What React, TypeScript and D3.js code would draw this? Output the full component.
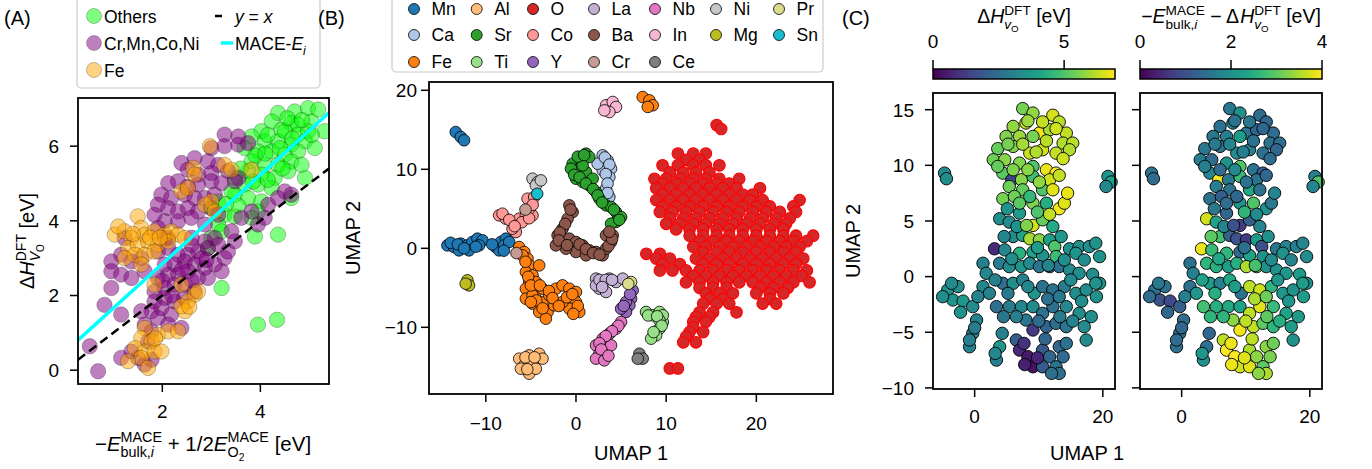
import React from 'react';
import * as d3 from 'd3';

const FONT = '"Liberation Sans", Arial, Helvetica, sans-serif';

// ---------- panel A : DFT vacancy enthalpy vs MACE estimate ----------
const othersPts: [number, number][] = [
  [4.36, 6.89], [4.70, 6.93], [4.97, 7.02], [5.18, 6.98], [4.63, 6.62], [4.77, 6.58], [5.04, 6.66], [4.23, 6.66],
  [4.02, 6.40], [4.43, 6.44], [4.77, 6.31], [4.97, 6.40], [3.82, 6.26], [4.09, 6.13], [4.36, 6.13], [4.63, 6.04],
  [4.91, 6.13], [3.68, 5.95], [3.95, 5.86], [4.23, 5.86], [4.50, 5.77], [4.77, 5.86], [3.82, 5.59], [4.09, 5.50],
  [4.36, 5.50], [4.63, 5.59], [3.75, 5.33], [4.02, 5.24], [4.29, 5.15], [4.57, 5.33], [3.48, 5.15], [3.68, 4.97],
  [3.95, 4.97], [4.23, 4.88], [3.48, 4.70], [3.75, 4.61], [4.02, 4.52], [3.14, 4.52], [3.00, 4.34], [3.27, 4.16],
  [3.14, 3.90], [3.00, 3.54], [2.93, 3.27], [3.21, 3.72], [3.48, 4.12], [3.95, 4.25], [4.91, 5.15], [3.82, 4.08],
  [3.89, 3.58], [4.36, 3.63], [3.21, 2.20], [3.95, 1.22], [4.34, 1.35], [3.41, 4.79], [4.50, 6.40], [5.11, 5.95],
  [5.31, 6.40], [4.84, 5.50], [4.55, 6.75], [4.15, 6.30], [4.40, 5.95], [3.90, 5.75], [4.10, 5.80], [4.65, 6.20],
  [4.85, 6.70], [5.05, 6.30], [3.60, 5.40], [3.85, 5.05], [4.45, 5.40], [4.15, 5.10], [3.55, 4.40], [3.30, 4.45],
  [4.63, 4.61],
];
const tmPts: [number, number][] = [
  [3.27, 6.31], [3.55, 6.26], [3.00, 5.95], [3.27, 6.00], [3.55, 6.04], [3.75, 6.08], [2.39, 5.55], [2.66, 5.68],
  [2.93, 5.59], [3.14, 5.50], [3.34, 5.33], [3.55, 5.15], [2.52, 5.37], [2.73, 5.24], [3.00, 5.28], [2.12, 5.01],
  [2.32, 5.06], [2.52, 4.92], [2.73, 4.97], [3.00, 5.06], [3.21, 5.01], [3.48, 5.06], [1.98, 4.70], [2.18, 4.61],
  [2.46, 4.70], [2.66, 4.61], [2.87, 4.61], [3.07, 4.70], [1.91, 4.43], [2.12, 4.34], [2.32, 4.25], [2.52, 4.34],
  [2.73, 4.25], [3.00, 4.34], [3.14, 4.16], [2.05, 3.99], [2.32, 3.99], [2.59, 4.08], [2.87, 3.90],
  [0.96, 2.91], [1.16, 3.09], [1.37, 2.91], [1.57, 3.00], [0.96, 2.65], [1.16, 2.56], [1.37, 2.47], [1.64, 2.65],
  [0.96, 2.20], [1.91, 3.18], [2.12, 3.27], [2.32, 3.09], [2.52, 3.09], [2.73, 3.18], [2.93, 3.27], [3.14, 3.36],
  [3.27, 3.00], [3.21, 2.65], [2.05, 2.83], [2.25, 2.83], [2.46, 2.91], [2.66, 2.83], [2.87, 2.74], [3.07, 2.83],
  [1.91, 2.47], [2.12, 2.56], [2.32, 2.56], [2.52, 2.65], [2.73, 2.47], [2.93, 2.47], [1.84, 2.11], [2.05, 2.20],
  [2.25, 2.29], [2.46, 2.29], [2.66, 2.11], [1.84, 1.84], [2.05, 1.93], [2.25, 1.84], [1.78, 1.58], [1.98, 1.66],
  [2.18, 1.49], [1.57, 1.58], [1.64, 1.22], [1.91, 1.40], [2.12, 1.22], [2.39, 1.13], [1.50, 0.33], [1.78, 0.28],
  [1.64, 0.15], [0.82, 1.75], [1.16, 1.49], [0.52, 0.64], [0.69, -0.03], [1.16, 0.33], [1.37, 0.50], [3.95, 3.90],
  [3.82, 4.25], [4.16, 4.43], [4.36, 4.61], [4.50, 4.79], [4.63, 4.70], [4.09, 4.08], [3.61, 4.08], [3.41, 3.72],
  [3.48, 3.45], [3.34, 3.18], [3.07, 3.54], [2.87, 3.45], [2.59, 3.36], [2.12, 3.54], [1.91, 3.81], [1.84, 4.16],
  [2.05, 3.54], [1.23, 3.54], [1.78, 1.04], [1.71, 0.77],
  [2.40, 2.70], [2.60, 2.40], [2.80, 3.00], [2.20, 2.00], [2.45, 1.95], [2.00, 2.40], [2.90, 2.95], [2.60, 3.55],
];
const fePts: [number, number][] = [
  [2.97, 6.00], [2.63, 5.42], [2.66, 5.24], [3.27, 5.50], [3.41, 5.37], [3.82, 5.37], [2.39, 4.79], [2.52, 4.88],
  [2.87, 4.43], [3.00, 4.52], [3.07, 4.25],
  [1.03, 3.63], [1.23, 3.72], [1.50, 4.12], [1.57, 3.81], [1.37, 3.54], [1.64, 3.63], [1.84, 3.72], [2.05, 3.63],
  [2.18, 3.72], [2.32, 3.63], [2.46, 3.54], [1.30, 3.27], [1.50, 3.36], [1.71, 3.45], [1.91, 3.36], [2.12, 3.45],
  [1.44, 3.09], [1.64, 3.09], [1.84, 3.18], [1.23, 3.00], [1.57, 2.83], [1.10, 3.85],
  [2.52, 1.84], [2.46, 1.58], [2.39, 1.71], [2.66, 2.02], [1.91, 0.95], [2.12, 1.04], [2.32, 1.04], [1.64, 1.13],
  [1.57, 0.86], [1.78, 0.77], [1.44, 0.59], [1.64, 0.50], [1.84, 0.50], [1.57, 0.33], [1.71, 0.06], [1.98, 0.50],
  [2.73, 2.11], [2.39, 2.29], [1.84, 2.29], [1.30, 0.24],
  [1.75, 3.55], [1.40, 3.65], [1.95, 3.55], [2.55, 1.70], [1.85, 0.85],
];
const maceSlope = 1.19;
const maceIntercept = 0.47;
const aXTicks = [2, 4];
const aYTicks = [0, 2, 4, 6];

// ---------- panel B : UMAP coloured by element ----------
const mnPts: [number, number][] = [
  [-13.34, 14.72], [-12.78, 14.09], [-12.41, 13.67], [-14.26, 0.37], [-13.52, 0.16], [-12.78, 0.59], [-12.04, 0.37],
  [-11.49, 0.8], [-10.93, 1.22], [-10.37, 1.01], [-11.86, -0.26], [-12.97, -0.26], [-10.74, 0.37], [-8.89, 0.16],
  [-8.34, 0.8], [-7.78, 1.22], [-8.52, -0.26], [-7.97, 0.37], [-7.41, 0.8],
  [-13.9, 0.7], [-13.1, 0.5], [-12.4, 0.0], [-11.1, 0.2], [-9.3, 0.5], [-8.0, -0.3],
];
const caPts: [number, number][] = [
  [2.96, 11.77], [3.51, 11.13], [3.89, 10.08], [2.96, 9.87], [3.7, 9.02], [3.33, 7.55], [3.7, 6.49], [2.4, 10.71],
  [3.2, 11.5], [3.7, 10.6], [3.3, 9.4], [3.5, 8.2], [3.5, 7.0],
];
const fePtsB: [number, number][] = [
  [7.4, 19.15], [8.14, 18.73], [8.51, 18.1], [7.96, 17.89], [-6.3, 0.16], [-5.74, -0.47], [-5.37, -1.31],
  [-5.19, -2.16], [-5.56, -3.0], [-4.82, -3.42], [-5.19, -4.27], [-5.56, -5.11], [-4.45, -4.27], [-4.45, -5.53],
  [-5.56, -6.38], [-4.82, -7.01], [-3.71, -6.8], [-3.15, -8.06], [-4.08, -8.06], [-2.97, -5.95], [-2.23, -5.11],
  [-1.49, -4.69], [-0.74, -5.11], [0, -5.53], [0, -6.8], [0.37, -8.06], [-0.74, -7.64], [-1.49, -6.8],
  [-2.41, -7.22], [-3.34, -8.91], [-4.82, -5.95], [-3.71, -5.11], [-5.93, -0.89], [-4.08, -2.16],
  [-5.6, -1.7], [-5.3, -3.6], [-5.0, -4.7], [-4.0, -4.7], [-3.0, -5.4], [-2.6, -6.3], [-1.9, -7.3], [-1.0, -6.2],
  [-0.4, -5.8], [0.2, -7.3], [-0.3, -8.3], [-4.4, -6.6], [-3.7, -7.6], [-5.0, -6.8],
];
const alPts: [number, number][] = [
  [-6.3, -13.97], [-5.19, -13.55], [-4.08, -13.34], [-3.71, -13.97], [-5.74, -14.81], [-4.82, -14.6],
  [-5.19, -15.87], [-4.45, -15.24], [-6.11, -15.24], [-5.6, -13.8], [-4.6, -13.8], [-5.4, -15.3],
];
const srPts: [number, number][] = [
  [-0.37, 10.71], [0, 9.87], [0.55, 11.13], [1.11, 11.98], [1.48, 11.56], [0, 8.81], [0.74, 8.39], [1.48, 7.97],
  [2.22, 7.13], [2.59, 6.28], [3.33, 5.44], [3.89, 5.23], [4.44, 4.59], [5.0, 3.96], [4.44, 3.33], [3.89, 3.12],
  [1.11, 9.66], [1.85, 8.81], [-0.56, 10.08], [0.74, 10.5],
  [0.2, 11.6], [0.9, 11.8], [-0.2, 9.3], [0.4, 9.0], [1.1, 8.2], [1.9, 7.5], [2.4, 6.7], [2.9, 5.8], [4.2, 4.9], [4.8, 3.6],
];
const tiPts: [number, number][] = [
  [7.77, -8.06], [8.51, -8.48], [9.26, -8.06], [9.63, -9.33], [9.26, -10.17], [8.89, -11.02], [8.33, -11.44],
  [9.63, -8.48], [9.26, -9.12], [8.0, -8.5], [9.0, -8.6], [9.5, -9.8], [8.6, -10.6],
];
// O sites: [UMAP 2, [UMAP 1 values along that row]]
const oRows: [number, number[]][] = [
  [15.6, [15.6]], [15.1, [16.1]],
  [12.0, [11.3, 13.0, 14.4]],
  [11.2, [12.2, 13.7]],
  [10.5, [9.6, 11.3, 13.0, 14.4, 15.9]],
  [9.6, [10.4, 11.9, 13.3, 14.8]],
  [8.8, [8.7, 10.0, 11.5, 13.0, 14.4, 15.9, 18.1]],
  [8.2, [9.6, 11.1, 12.6, 14.1, 15.6, 17.0]],
  [7.6, [8.9, 10.4, 11.9, 13.3, 14.8, 16.3, 17.8, 20.4]],
  [6.8, [9.6, 11.1, 12.6, 14.1, 15.6, 17.0, 18.5, 19.6]],
  [6.1, [8.9, 10.4, 11.9, 13.3, 14.8, 16.3, 17.8, 19.3, 20.7, 24.8]],
  [5.3, [9.6, 11.1, 12.6, 14.1, 15.6, 17.0, 18.5, 20.0, 21.5, 24.1]],
  [4.6, [9.3, 10.7, 12.2, 13.7, 15.2, 16.7, 18.1, 19.6, 21.1, 22.6, 24.4]],
  [3.8, [10.4, 11.9, 13.3, 14.8, 16.3, 17.8, 19.3, 20.7, 22.2, 23.7]],
  [3.1, [10.0, 11.5, 13.0, 14.4, 15.9, 17.4, 18.9, 20.4, 21.9, 23.3]],
  [2.4, [11.1, 12.6, 14.1, 15.6, 17.0, 18.5, 20.0, 21.5, 23.0]],
  [1.6, [12.6, 14.1, 15.6, 17.0, 18.5, 20.0, 21.5, 23.0, 24.4, 26.3]],
  [0.9, [13.7, 15.2, 16.7, 18.1, 19.6, 21.1, 22.6, 24.1, 25.6]],
  [0.2, [13.0, 14.4, 15.9, 17.4, 18.9, 20.4, 21.9, 23.3, 24.8]],
  [-0.5, [14.1, 15.6, 17.0, 18.5, 20.0, 21.5, 23.0, 24.4]],
  [-0.7, [7.8, 9.3]],
  [-1.3, [8.9, 10.4, 13.3, 14.8, 16.3, 17.8, 19.3, 20.7, 22.2, 23.7, 25.2]],
  [-2.0, [9.6, 11.5, 14.1, 15.6, 17.0, 18.5, 20.0, 21.5, 23.0, 24.4]],
  [-2.8, [9.3, 10.7, 12.2, 13.7, 15.2, 16.7, 18.1, 19.6, 21.1, 22.6, 24.1, 25.6]],
  [-3.5, [13.0, 14.4, 15.9, 17.4, 18.9, 20.4, 21.9, 23.3, 25.0]],
  [-4.3, [12.2, 13.7, 15.2, 16.7, 18.1, 19.6, 21.1, 22.6, 24.1, 25.9]],
  [-5.0, [13.7, 15.2, 16.7, 20.4, 21.9, 23.5]],
  [-5.7, [14.4, 15.9, 17.4, 20.0, 21.5, 23.0]],
  [-6.4, [14.8, 16.3, 21.5]],
  [-7.0, [14.1, 15.6, 17.0, 20.7, 22.2]],
  [-8.1, [13.7, 15.2, 17.8]],
  [-8.7, [13.3, 14.8]],
  [-9.3, [13.0, 14.4]],
  [-10.0, [13.0]],
  [-10.6, [12.6, 14.1]],
  [-11.2, [12.2]],
  [-11.9, [11.9, 13.3]],
  [-15.2, [10.4, 11.3]],
];
const coPts: [number, number][] = [
  [-8.52, 4.17], [-7.78, 3.75], [-7.04, 3.33], [-6.3, 3.75], [-5.56, 4.17], [-4.82, 4.17], [-5.19, 5.02],
  [-5.37, 6.28], [-4.63, 6.49], [-6.67, 2.06], [-7.04, 2.48], [-8.15, 4.38],
  [-7.4, 3.6], [-6.0, 3.3], [-5.2, 3.8], [-4.8, 5.5], [-6.8, 2.8],
];
const yPts: [number, number][] = [[6.29, -5.32], [6.11, -6.38], [5.92, -7.22], [5.55, -8.06], [5.0, -7.64], [5.55, -6.8], [6.0, -5.8], [5.3, -7.3]];
const laPts: [number, number][] = [
  [2.22, -3.84], [2.96, -4.27], [3.7, -3.84], [4.44, -4.27], [5.18, -3.84], [2.59, -5.11], [2.22, -4.69], [3.33, -5.53],
  [2.6, -4.0], [3.3, -4.0], [4.0, -4.0], [2.9, -4.9],
];
const baPts: [number, number][] = [
  [-0.74, 5.44], [-0.37, 4.59], [-0.93, 3.75], [-1.49, 2.48], [-2.04, 1.64], [-1.49, 0.8], [-0.74, 1.22], [0, 0.8],
  [0.74, 0.37], [1.48, -0.26], [2.22, -0.47], [2.96, -0.89], [3.33, -0.05], [3.89, 0.8], [4.07, 1.64], [3.33, 1.64],
  [0, -0.47], [-1.11, -0.05], [-2.23, 0.37], [1.11, -0.89],
  [-0.6, 4.9], [-1.2, 3.1], [-1.8, 2.0], [-1.9, 1.0], [-1.0, 0.4], [0.4, 0.5], [1.1, -0.1], [1.9, -0.6], [2.6, -0.8],
  [3.6, 0.3], [4.0, 1.2], [3.7, 2.1],
];
const crPts: [number, number][] = [[-5.6, 4.9], [-6.6, -0.6]];
const nbPts: [number, number][] = [
  [5.0, -9.33], [4.44, -10.17], [3.7, -10.81], [2.96, -11.44], [2.22, -12.28], [2.59, -13.34], [3.33, -13.13],
  [3.89, -12.28], [2.22, -13.97], [3.14, -14.18], [4.7, -9.8], [4.0, -10.5], [3.3, -11.1], [2.6, -12.0], [2.8, -12.8], [3.6, -13.6],
];
const inPts: [number, number][] = [[3.33, 18.1], [4.07, 18.52], [4.44, 17.89], [3.7, 17.25], [3.14, 17.46]];
const cePts: [number, number][] = [[7.03, -13.34], [7.4, -13.97], [6.85, -13.97]];
const niPts: [number, number][] = [[-4.82, 8.81], [-4.26, 8.39], [-4.45, 7.97], [-3.89, 8.6]];
const mgPts: [number, number][] = [[-12.04, -4.05], [-11.86, -4.69], [-12.23, -4.48]];
const prPts: [number, number][] = [[6.11, -4.27], [5.8, -4.5]];
const snPts: [number, number][] = [[-4.3, 6.9]];
const elements = ['Mn', 'Ca', 'Fe', 'Al', 'Sr', 'Ti', 'O', 'Co', 'Y', 'La', 'Ba', 'Cr', 'Nb', 'In', 'Ce', 'Ni', 'Mg', 'Pr', 'Sn'];
const legendColumnSizes = [3, 3, 3, 3, 3, 2, 2];
const bXTicks = [-10, 0, 10, 20];
const bYTicks = [-10, 0, 10, 20];

// ---------- panel C : UMAP coloured by energies ----------
const cPts: [number, number][] = [
  [-4.7, 9.3], [-4.4, 8.8], [20.8, 9.0], [21.3, 8.5], [20.5, 8.1], [7.5, 15.1], [9.1, 14.7], [12.2, 14.5],
  [13.2, 13.9], [6.0, 13.5], [8.0, 13.8], [10.1, 12.9], [11.7, 13.2], [14.3, 12.9], [4.9, 12.6], [7.0, 12.6],
  [9.1, 12.6], [13.8, 12.0], [15.3, 12.0], [3.6, 11.5], [6.0, 11.7], [8.6, 11.1], [10.6, 11.4], [12.7, 11.1],
  [14.8, 11.4], [2.9, 10.5], [4.7, 10.5], [7.0, 10.2], [9.1, 9.9], [11.2, 9.6], [12.7, 9.3], [4.4, 9.3],
  [5.8, 8.7], [7.3, 8.7], [9.1, 9.0], [11.7, 8.7], [13.2, 9.1], [5.4, 8.1], [7.5, 7.8], [10.6, 7.8],
  [4.4, 7.0], [6.2, 7.2], [9.1, 6.6], [11.2, 6.6], [13.2, 6.1], [14.0, 6.6], [8.6, 7.2], [3.9, 5.2],
  [5.4, 4.9], [7.0, 5.7], [9.1, 4.6], [10.6, 5.1], [12.2, 4.5], [6.0, 3.6], [7.5, 3.7], [8.6, 3.4],
  [10.1, 3.3], [11.7, 3.3], [3.1, 2.5], [4.7, 2.4], [7.0, 2.1], [9.1, 2.2], [10.6, 1.9], [12.5, 2.7],
  [12.7, 1.8], [14.8, 2.5], [16.3, 2.7], [17.9, 2.7], [18.9, 3.0], [15.8, 2.1], [1.3, 1.2], [1.8, 0.3],
  [3.9, 1.2], [5.4, 0.9], [7.3, 0.9], [8.6, 1.2], [10.1, 0.9], [11.7, 0.9], [13.2, 0.9], [14.8, 0.6],
  [16.3, 0.3], [18.4, 0.2], [19.5, -0.6], [-4.2, -1.2], [-2.6, -0.9], [-3.4, -2.1], [-1.8, -2.2], [-0.3, -2.7],
  [1.3, -0.9], [2.3, -1.5], [4.4, -0.6], [6.0, -0.6], [7.5, -0.3], [9.3, -1.5], [10.6, -0.9], [12.2, -1.2],
  [14.0, -0.9], [15.8, -1.5], [17.4, -1.2], [18.9, -0.6], [3.4, -2.7], [5.4, -2.7], [7.3, -2.7], [9.1, -2.7],
  [10.6, -3.3], [12.2, -2.7], [14.3, -2.7], [16.3, -3.3], [0.3, -3.9], [-0.3, -5.1], [-0.8, -6.3], [8.0, -3.9],
  [9.1, -4.8], [11.2, -4.5], [12.7, -4.2], [14.3, -4.5], [17.1, -4.5], [17.4, -5.7], [3.9, -6.3], [3.4, -7.5],
  [6.5, -5.7], [7.0, -6.6], [8.3, -7.2], [9.1, -8.1], [10.6, -6.6], [11.7, -7.2], [12.7, -8.1], [13.2, -6.3],
  [14.3, -6.0], [13.2, -8.7], [10.6, -8.1],
  [8.3, 14.0], [10.6, 13.9], [12.7, 13.3], [5.2, 11.9], [7.5, 11.9], [11.2, 12.2], [9.6, 11.2], [13.8, 10.6],
  [3.6, 9.9], [6.0, 9.6], [8.3, 9.6], [10.1, 8.5], [12.2, 7.8], [14.5, 7.5], [5.1, 6.1], [7.0, 6.6],
  [9.8, 5.8], [11.7, 5.6], [4.6, 3.6], [6.6, 4.5], [8.1, 4.6], [13.5, 3.6], [9.8, 2.6], [5.8, 1.6],
  [11.5, 1.0], [14.0, 1.5], [17.1, 1.5], [19.5, 1.8], [-5.0, -1.8], [-3.6, -0.6], [-2.2, -3.2], [0.5, -1.8],
  [3.2, -0.3], [5.2, -1.5], [8.3, -0.9], [11.4, -2.0], [13.2, -1.8], [15.0, -0.3], [16.7, -2.2], [19.0, -1.8],
  [18.2, -3.6], [4.5, -3.6], [6.5, -3.6], [10.0, -4.0], [13.3, -3.6], [15.3, -4.0], [0.0, -4.6], [-0.8, -5.7],
  [3.2, -6.9], [4.3, -5.1], [7.7, -6.0], [9.8, -7.3], [11.0, -5.6], [12.0, -8.7], [13.8, -7.2], [7.8, -7.9],
];
const cDH = [
  3.3, 3.4, 3.6, 4.0, 3.2, 5.5, 5.8, 6.5, 6.2, 5.8, 6.3, 6.8, 6.0, 6.3, 5.6, 5.9,
  5.5, 6.1, 6.2, 5.3, 5.6, 6.4, 6.5, 6.3, 6.1, 5.4, 5.7, 5.6, 5.0, 6.7, 6.9, 5.2,
  1.5, 5.7, 4.8, 6.4, 6.3, 5.4, 5.3, 5.0, 5.5, 5.4, 5.6, 4.3, 6.8, 6.6, 4.6, 3.4,
  3.3, 3.8, 6.5, 5.3, 4.2, 3.3, 4.0, 6.0, 5.7, 3.9, 0.8, 3.2, 4.4, 4.0, 3.5, 5.0,
  4.7, 3.5, 3.5, 3.4, 3.5, 3.6, 3.0, 3.2, 2.9, 3.3, 3.6, 3.3, 2.7, 2.6, 2.6, 3.3,
  3.4, 3.4, 3.5, 3.5, 3.4, 3.6, 3.7, 3.3, 3.2, 3.0, 2.5, 3.4, 3.0, 3.6, 2.6, 2.6,
  2.9, 3.4, 3.4, 3.5, 2.5, 2.9, 3.2, 3.3, 2.6, 2.5, 3.2, 3.4, 3.0, 2.9, 3.0, 2.7,
  1.2, 2.2, 2.5, 2.7, 3.3, 3.3, 3.7, 3.0, 2.0, 0.8, 0.5, 0.3, 2.0, 2.3, 2.6, 2.3,
  2.6, 2.5, 2.0,
  5.9, 6.3, 6.4, 5.5, 6.0, 6.2, 6.1, 6.4, 5.3, 5.6, 5.7, 5.8, 6.6, 6.7, 3.6, 5.2,
  5.0, 6.3, 3.2, 3.5, 5.6, 3.7, 3.8, 3.4, 3.1, 3.4, 3.4, 3.5, 3.4, 3.3, 3.5, 3.1,
  3.0, 2.8, 3.2, 2.6, 2.8, 3.3, 3.4, 3.5, 3.4, 2.7, 3.0, 2.4, 2.9, 3.1, 2.9, 3.0,
  3.2, 3.0, 1.0, 0.7, 2.3, 2.5, 2.4, 0.6,
];
const cDiff = [
  1.5, 1.4, 1.7, 2.9, 1.8, 1.6, 2.0, 1.4, 1.3, 1.5, 1.8, 1.5, 1.3, 1.4, 1.6, 1.7,
  2.2, 1.5, 1.4, 1.6, 1.5, 1.9, 1.8, 1.5, 1.3, 1.7, 1.4, 2.0, 2.9, 1.5, 1.2, 1.8,
  4.0, 1.6, 2.7, 1.5, 1.3, 1.7, 1.5, 2.4, 1.5, 1.2, 2.0, 2.9, 2.0, 1.6, 1.3, 3.7,
  2.3, 1.3, 0.7, 1.2, 1.8, 2.8, 1.2, 1.0, 0.7, 2.2, 3.9, 2.7, 2.6, 1.4, 2.3, 1.0,
  2.0, 1.6, 1.8, 1.7, 1.8, 2.0, 1.5, 1.7, 2.6, 2.5, 2.2, 2.5, 3.5, 3.3, 2.0, 2.0,
  2.1, 2.2, 2.0, 1.5, 1.5, 1.0, 0.9, 1.2, 1.5, 2.1, 2.2, 1.7, 2.4, 1.5, 3.6, 3.7,
  2.6, 2.1, 2.0, 2.2, 2.8, 2.5, 2.4, 2.3, 3.6, 3.8, 2.7, 2.3, 1.4, 1.4, 1.5, 3.3,
  3.9, 3.6, 3.0, 2.6, 2.2, 2.0, 1.5, 2.0, 3.6, 4.0, 4.0, 3.7, 3.5, 3.3, 3.0, 3.3,
  3.1, 3.5, 3.8,
  1.5, 1.6, 1.3, 1.6, 1.8, 1.5, 1.7, 1.4, 1.7, 1.4, 1.9, 1.5, 1.5, 1.8, 1.6, 1.4,
  2.6, 1.9, 3.0, 1.8, 1.0, 2.0, 1.5, 2.4, 2.8, 1.9, 1.8, 1.9, 1.4, 1.6, 1.3, 1.7,
  2.3, 2.5, 2.2, 3.5, 3.1, 2.1, 2.1, 2.2, 2.2, 2.6, 2.6, 3.6, 3.0, 2.5, 1.3, 1.4,
  2.1, 1.3, 3.9, 3.8, 3.6, 3.3, 3.2, 3.9,
];
const cXTicks = [0, 20];
const cYTicks = [-10, -5, 0, 5, 10, 15];
const dhMax = 6.94;
const diffMax = 4;
const dhTicks = [0, 5];
const diffTicks = [0, 2, 4];

// matplotlib tab20, in the same order as `elements`
const TAB20 = ['#1f77b4', '#aec7e8', '#ff7f0e', '#ffbb78', '#2ca02c', '#98df8a', '#d62728', '#ff9896', '#9467bd', '#c5b0d5',
  '#8c564b', '#c49c94', '#e377c2', '#f7b6d2', '#7f7f7f', '#c7c7c7', '#bcbd22', '#dbdb8d', '#17becf'];

// ---------- small mathtext helper ----------
type Run = { t: string; it?: boolean; lvl?: 'sup' | 'sub' | 'subsub'; back?: boolean; mark?: boolean; max?: boolean };
const LV = { base: { s: 1, dy: 0 }, sup: { s: 0.7, dy: -0.42 }, sub: { s: 0.7, dy: 0.3 }, subsub: { s: 0.5, dy: 0.48 } };
let ctx: CanvasRenderingContext2D | null = null;
function tw(t: string, size: number, it?: boolean) {
  if (!ctx) ctx = document.createElement('canvas').getContext('2d');
  if (!ctx) return t.length * size * 0.55;
  ctx.font = `${it ? 'italic ' : ''}${size}px ${FONT}`;
  return ctx.measureText(t).width;
}
function layout(runs: Run[], fs: number) {
  let last = 0, max = 0, mark = 0;
  const items: { t: string; x: number; dy: number; size: number; it?: boolean }[] = [];
  for (const r of runs) {
    const L = LV[r.lvl || 'base'];
    const size = fs * L.s;
    const x = r.back ? mark : r.max ? max : last;
    if (r.mark) mark = x;
    const txt = r.t.trimStart();
    const lead = tw(r.t.slice(0, r.t.length - txt.length), size, r.it);
    items.push({ t: txt, x: x + lead, dy: L.dy * fs, size, it: r.it });
    last = x + tw(r.t, size, r.it);
    max = Math.max(max, last);
  }
  return { items, width: max };
}
function MathText({ runs, x, y, fs, anchor = 'middle', rotate = 0 }: { runs: Run[]; x: number; y: number; fs: number; anchor?: string; rotate?: number }) {
  const { items, width } = layout(runs, fs);
  const off = anchor === 'middle' ? -width / 2 : anchor === 'end' ? -width : 0;
  return (
    <g transform={`translate(${x},${y}) rotate(${rotate})`}>
      {items.map((d, i) => (
        <text key={i} x={d.x + off} y={d.dy} fontSize={d.size} fontStyle={d.it ? 'italic' : 'normal'} fill="#000">{d.t}</text>
      ))}
    </g>
  );
}

// ---------- axes frame ----------
type Box = { x0: number; x1: number; y0: number; y1: number };
function Frame({ b, xs, ys, xTicks, yTicks, yLabels = true, yGap = 19, xGap = 34, fs = 19 }: any) {
  return (
    <g>
      {xTicks.map((t: number) => (
        <g key={'x' + t}>
          <line x1={xs(t)} x2={xs(t)} y1={b.y1} y2={b.y1 + 8} stroke="#000" strokeWidth={1.5} />
          <text x={xs(t)} y={b.y1 + xGap} fontSize={fs} textAnchor="middle">{String(t).replace('-', '−')}</text>
        </g>
      ))}
      {yTicks.map((t: number) => (
        <g key={'y' + t}>
          <line x1={b.x0 - 8} x2={b.x0} y1={ys(t)} y2={ys(t)} stroke="#000" strokeWidth={1.5} />
          {yLabels && <text x={b.x0 - yGap} y={ys(t)} dy="0.36em" fontSize={fs} textAnchor="end">{String(t).replace('-', '−')}</text>}
        </g>
      ))}
      <rect x={b.x0} y={b.y0} width={b.x1 - b.x0} height={b.y1 - b.y0} fill="none" stroke="#000" strokeWidth={1.8} />
    </g>
  );
}

function Colorbar({ x0, x1, y0, y1, scale, ticks, id }: any) {
  const stops = d3.range(0, 1.0001, 0.05);
  const ax = d3.scaleLinear().domain(scale.domain()).range([x0, x1]);
  return (
    <g>
      <defs>
        <linearGradient id={id} x1="0" x2="1" y1="0" y2="0">
          {stops.map((s) => <stop key={s} offset={s} stopColor={d3.interpolateViridis(s)} />)}
        </linearGradient>
      </defs>
      <rect x={x0} y={y0} width={x1 - x0} height={y1 - y0} fill={`url(#${id})`} stroke="#000" strokeWidth={1.5} />
      {ticks.map((t: number) => (
        <g key={t}>
          <line x1={ax(t)} x2={ax(t)} y1={y0 - 9} y2={y0} stroke="#000" strokeWidth={1.5} />
          <text x={ax(t)} y={y0 - 21} fontSize={19} textAnchor="middle">{t}</text>
        </g>
      ))}
    </g>
  );
}

export default function App() {
  // panel A
  const bA: Box = { x0: 78, x1: 329, y0: 98, y1: 384 };
  const xA = d3.scaleLinear().domain([0.28, 5.40]).range([bA.x0, bA.x1]);
  const yA = d3.scaleLinear().domain([-0.37, 7.29]).range([bA.y1, bA.y0]);
  const groupsA = [
    { pts: othersPts, color: '#00ff00' },
    { pts: tmPts, color: '#800080' },
    { pts: fePts, color: '#ffa500' },
  ];
  const [lx0, lx1] = xA.domain();

  // panel B
  const bB: Box = { x0: 429, x1: 833, y0: 82, y1: 394 };
  const xB = d3.scaleLinear().domain([-16.3, 28.5]).range([bB.x0, bB.x1]);
  const yB = d3.scaleLinear().domain([-18.44, 21.05]).range([bB.y1, bB.y0]);
  const oPts: [number, number][] = oRows.flatMap(([y, xs]) => xs.map((x) => [x, y] as [number, number]));
  const ptsByEl: Record<string, [number, number][]> = {
    Mn: mnPts, Ca: caPts, Fe: fePtsB, Al: alPts, Sr: srPts, Ti: tiPts, O: oPts, Co: coPts, Y: yPts, La: laPts,
    Ba: baPts, Cr: crPts, Nb: nbPts, In: inPts, Ce: cePts, Ni: niPts, Mg: mgPts, Pr: prPts, Sn: snPts,
  };
  const legCols = [414, 476.7, 533, 594, 655, 716, 779];
  const legRows = [9, 35, 62];
  const legSlots: [number, number][] = legendColumnSizes.flatMap((n, c) => d3.range(n).map((r) => [c, r] as [number, number]));

  // panel C
  const bC1: Box = { x0: 933, x1: 1115, y0: 93, y1: 389 };
  const bC2: Box = { x0: 1140, x1: 1322, y0: 93, y1: 389 };
  const xC1 = d3.scaleLinear().domain([-6.5, 21.9]).range([bC1.x0, bC1.x1]);
  const xC2 = d3.scaleLinear().domain([-6.5, 21.9]).range([bC2.x0, bC2.x1]);
  const yC = d3.scaleLinear().domain([-10.1, 16.5]).range([bC1.y1, bC1.y0]);
  const cDHScale = d3.scaleSequential(d3.interpolateViridis).domain([0, dhMax]);
  const cDiffScale = d3.scaleSequential(d3.interpolateViridis).domain([0, diffMax]);

  const dhTitle: Run[] = [{ t: 'Δ' }, { t: 'H', it: true }, { t: 'DFT', lvl: 'sup', mark: true }, { t: 'v', it: true, lvl: 'sub', back: true }, { t: 'O', lvl: 'subsub' }, { t: ' [eV]', max: true }];
  const diffTitle: Run[] = [{ t: '−' }, { t: 'E', it: true }, { t: 'MACE', lvl: 'sup', mark: true }, { t: 'bulk,', lvl: 'sub', back: true }, { t: 'i', it: true, lvl: 'sub' },
    { t: ' − Δ', max: true }, { t: 'H', it: true }, { t: 'DFT', lvl: 'sup', mark: true }, { t: 'v', it: true, lvl: 'sub', back: true }, { t: 'O', lvl: 'subsub' }, { t: ' [eV]', max: true }];

  return (
    <svg width={1372} height={469} style={{ position: 'absolute', left: 0, top: 0, background: '#fff' }} fontFamily={FONT}>
      <defs>
        <clipPath id="clipA"><rect x={bA.x0} y={bA.y0} width={bA.x1 - bA.x0} height={bA.y1 - bA.y0} /></clipPath>
        <clipPath id="clipB"><rect x={bB.x0} y={bB.y0} width={bB.x1 - bB.x0} height={bB.y1 - bB.y0} /></clipPath>
      </defs>

      {/* ---------------- (A) ---------------- */}
      <text x={4} y={25} fontSize={20}>(A)</text>
      <g clipPath="url(#clipA)">
        {groupsA.map((g, gi) => g.pts.map((p, i) => (
          <circle key={gi + '-' + i} cx={xA(p[0])} cy={yA(p[1])} r={7.7} fill={g.color} fillOpacity={0.5} stroke="#000" strokeOpacity={0.35} strokeWidth={0.7} />
        )))}
        <line x1={xA(lx0)} y1={yA(lx0)} x2={xA(lx1)} y2={yA(lx1)} stroke="#000" strokeWidth={2.5} strokeDasharray="9,5" />
        <line x1={xA(lx0)} y1={yA(maceSlope * lx0 + maceIntercept)} x2={xA(lx1)} y2={yA(maceSlope * lx1 + maceIntercept)} stroke="#00ffff" strokeWidth={3.5} />
      </g>
      <Frame b={bA} xs={xA} ys={yA} xTicks={aXTicks} yTicks={aYTicks} yGap={19} xGap={34} />
      <MathText x={34} y={241} fs={20} rotate={-90} runs={[{ t: 'Δ' }, { t: 'H', it: true }, { t: 'DFT', lvl: 'sup', mark: true }, { t: 'V', it: true, lvl: 'sub', back: true }, { t: 'O', lvl: 'subsub' }, { t: ' [eV]', max: true }]} />
      <MathText x={203} y={451} fs={20.5} runs={[{ t: '−' }, { t: 'E', it: true }, { t: 'MACE', lvl: 'sup', mark: true }, { t: 'bulk,', lvl: 'sub', back: true }, { t: 'i', it: true, lvl: 'sub' },
        { t: ' + 1/2', max: true }, { t: 'E', it: true }, { t: 'MACE', lvl: 'sup', mark: true }, { t: 'O', lvl: 'sub', back: true }, { t: '2', lvl: 'subsub' }, { t: ' [eV]', max: true }]} />
      {/* legend A */}
      <rect x={77} y={-3} width={243} height={91} rx={4} fill="#fff" fillOpacity={0.8} stroke="#cccccc" strokeWidth={1.2} />
      {[['Others', '#00ff00', 16], ['Cr,Mn,Co,Ni', '#800080', 43], ['Fe', '#ffa500', 70]].map(([name, c, y]) => (
        <g key={name as string}>
          <circle cx={94} cy={y as number} r={7.5} fill={c as string} fillOpacity={0.5} stroke="#000" strokeOpacity={0.35} strokeWidth={0.7} />
          <text x={104} y={(y as number) + 6.5} fontSize={17.5}>{name}</text>
        </g>
      ))}
      <line x1={215} x2={222} y1={16} y2={16} stroke="#000" strokeWidth={2.5} />
      <MathText x={235} y={22.5} fs={17.5} anchor="start" runs={[{ t: 'y', it: true }, { t: ' = ' }, { t: 'x', it: true }]} />
      <line x1={221} x2={233} y1={43} y2={43} stroke="#00ffff" strokeWidth={3.5} />
      <MathText x={235} y={49.5} fs={17.5} anchor="start" runs={[{ t: 'MACE-' }, { t: 'E', it: true }, { t: 'i', it: true, lvl: 'sub' }]} />

      {/* ---------------- (B) ---------------- */}
      <text x={318} y={25} fontSize={20}>(B)</text>
      <g clipPath="url(#clipB)">
        {elements.map((el, ei) => ptsByEl[el].map((p, i) => (
          <circle key={el + i} cx={xB(p[0])} cy={yB(p[1])} r={5.8} fill={TAB20[ei]}
            stroke={el === 'O' ? '#ff0000' : '#000'} strokeWidth={el === 'O' ? 1.1 : 0.8} />
        )))}
      </g>
      <Frame b={bB} xs={xB} ys={yB} xTicks={bXTicks} yTicks={bYTicks} yGap={12} xGap={36} />
      <text transform={`translate(360,${(bB.y0 + bB.y1) / 2}) rotate(-90)`} textAnchor="middle" fontSize={20}>UMAP 2</text>
      <text x={(bB.x0 + bB.x1) / 2} y={460} textAnchor="middle" fontSize={20}>UMAP 1</text>
      {/* legend B */}
      <rect x={392} y={-3} width={431} height={75} rx={4} fill="#fff" fillOpacity={0.8} stroke="#cccccc" strokeWidth={1.2} />
      {elements.map((el, i) => {
        const [c, r] = legSlots[i];
        const cx = legCols[c];
        const cy = legRows[r];
        return (
          <g key={'leg' + el}>
            <circle cx={cx} cy={cy} r={5.5} fill={TAB20[i]} stroke="#000" strokeWidth={0.8} />
            <text x={cx + 17.5} y={cy + 6.3} fontSize={17.5}>{el}</text>
          </g>
        );
      })}

      {/* ---------------- (C) ---------------- */}
      <text x={842} y={25} fontSize={20}>(C)</text>
      {[{ b: bC1, xs: xC1, vals: cDH, sc: cDHScale }, { b: bC2, xs: xC2, vals: cDiff, sc: cDiffScale }].map((pn, k) => (
        <g key={'c' + k}>
          {cPts.map((p, i) => (
            <circle key={i} cx={pn.xs(p[0])} cy={yC(p[1])} r={6.2} fill={pn.sc(pn.vals[i])} stroke="#000" strokeWidth={0.9} />
          ))}
          <Frame b={pn.b} xs={pn.xs} ys={yC} xTicks={cXTicks} yTicks={cYTicks} yLabels={k === 0} yGap={19} xGap={34} />
        </g>
      ))}
      <Colorbar id="cbL" x0={bC1.x0} x1={bC1.x1} y0={69} y1={79} scale={cDHScale} ticks={dhTicks} />
      <Colorbar id="cbR" x0={bC2.x0} x1={bC2.x1} y0={69} y1={79} scale={cDiffScale} ticks={diffTicks} />
      <MathText x={(bC1.x0 + bC1.x1) / 2} y={23} fs={19.5} runs={dhTitle} />
      <MathText x={(bC2.x0 + bC2.x1) / 2} y={23} fs={19.5} runs={diffTitle} />
      <text transform={`translate(860,${(bC1.y0 + bC1.y1) / 2}) rotate(-90)`} textAnchor="middle" fontSize={20}>UMAP 2</text>
      <text x={1087} y={460} textAnchor="middle" fontSize={20}>UMAP 1</text>
    </svg>
  );
}
